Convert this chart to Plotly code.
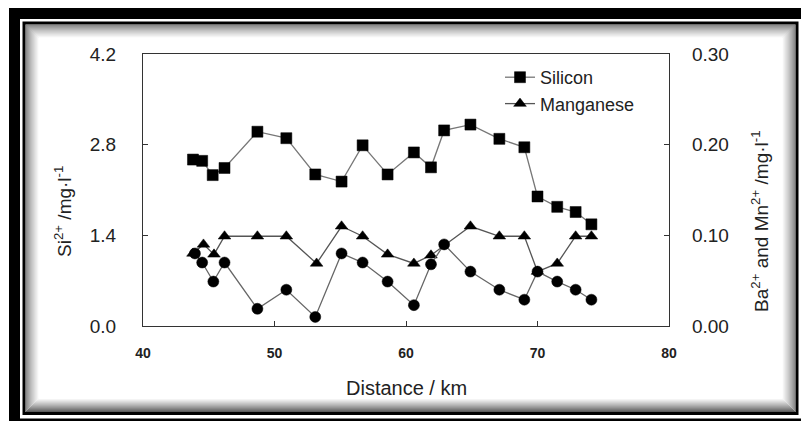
import plotly.graph_objects as go

# ---------------- data ----------------
si_x = [43.8, 44.5, 45.3, 46.2, 48.7, 50.9, 53.1, 55.1, 56.7, 58.6, 60.6, 61.9, 62.9, 64.9, 67.1, 69.0, 70.0, 71.5, 72.9, 74.1]
si_y = [2.57, 2.55, 2.33, 2.44, 3.00, 2.90, 2.34, 2.23, 2.79, 2.34, 2.68, 2.45, 3.02, 3.11, 2.89, 2.76, 2.00, 1.84, 1.76, 1.57]

mn_x = [43.8, 44.6, 45.4, 46.2, 48.7, 50.9, 53.2, 55.1, 56.7, 58.6, 60.6, 61.9, 64.9, 67.1, 69.0, 70.0, 71.5, 72.9, 74.1]
mn_y = [0.080, 0.090, 0.079, 0.099, 0.099, 0.099, 0.069, 0.110, 0.099, 0.079, 0.069, 0.078, 0.110, 0.099, 0.099, 0.060, 0.069, 0.099, 0.099]

ba_x = [43.95, 44.5, 45.35, 46.2, 48.7, 50.9, 53.1, 55.1, 56.7, 58.6, 60.6, 61.9, 62.9, 64.9, 67.1, 69.0, 70.0, 71.5, 72.9, 74.1]
ba_y = [0.080, 0.070, 0.049, 0.070, 0.019, 0.040, 0.010, 0.080, 0.070, 0.049, 0.023, 0.068, 0.090, 0.060, 0.040, 0.029, 0.060, 0.049, 0.040, 0.029]

x_ticks = [40, 50, 60, 70, 80]
y_left_ticks = [0.0, 1.4, 2.8, 4.2]
y_right_ticks = [0.0, 0.10, 0.20, 0.30]

# ---------------- layout geometry ----------------
W, H = 801, 421
L, R, T, B = 143, 132, 54, 95
PW, PH = W - L - R, H - T - B


def px(x):
    return (x - L) / PW


def py(y):
    return (H - B - y) / PH


FONT = "Liberation Sans, Arial, sans-serif"
TXT = "#222222"
AX = "#333333"

fig = go.Figure()
fig.add_trace(go.Scatter(
    x=si_x, y=si_y, name="Silicon", mode="lines+markers",
    line=dict(color="#777777", width=1.3),
    marker=dict(symbol="square", size=11, color="black", line=dict(color="black", width=0.5)),
))
fig.add_trace(go.Scatter(
    x=mn_x, y=mn_y, name="Manganese", mode="lines+markers", yaxis="y2",
    line=dict(color="#555555", width=1.3),
    marker=dict(symbol="triangle-up", size=11, color="black", line=dict(color="black", width=0.5)),
))
fig.add_trace(go.Scatter(
    x=ba_x, y=ba_y, name="Barium", mode="lines+markers", yaxis="y2", showlegend=False,
    line=dict(color="#666666", width=1.3),
    marker=dict(symbol="circle", size=11, color="black", line=dict(color="black", width=0.5)),
))

# ---------------- frame ----------------
shapes = []


def rect(x0, y0, x1, y1, fill=None, line=None, lw=0):
    d = dict(type="rect", xref="paper", yref="paper", layer="below",
             x0=px(x0), x1=px(x1), y0=py(y1), y1=py(y0))
    d["fillcolor"] = fill if fill else "rgba(0,0,0,0)"
    d["line"] = dict(color=line or "rgba(0,0,0,0)", width=lw)
    return d


shapes.append(rect(9, 8, 830, 440, fill="black"))
shapes.append(rect(20, 19, 815, 418.5, fill="white"))
shapes.append(rect(22.5, 21.5, 798.5, 415, fill="black"))
shapes.append(rect(25.5, 24.5, 795.5, 412, fill="white"))
N = 14
for k in range(N):
    t = (k + 1) / N
    g = int(70 + (255 - 70) * (t ** 0.8))
    c = f"rgb({g},{g},{g})"
    shapes.append(rect(25.5 + k + 0.5, 24.5 + k + 0.5, 795.5 - k - 0.5, 412 - k - 0.5, line=c, lw=1))

annotations = [
    dict(text="Si<sup>2+</sup> /mg·l<sup>-1</sup>", x=px(63), y=py(212), xref="paper", yref="paper",
         textangle=-90, showarrow=False, xanchor="center", yanchor="middle",
         font=dict(family=FONT, size=19, color=TXT)),
    dict(text="Ba<sup>2+</sup> and Mn<sup>2+</sup> /mg·l<sup>-1</sup>", x=px(760), y=py(221), xref="paper", yref="paper",
         textangle=-90, showarrow=False, xanchor="center", yanchor="middle",
         font=dict(family=FONT, size=19, color=TXT)),
    dict(text="Distance / km", x=px(406), y=py(388), xref="paper", yref="paper",
         showarrow=False, xanchor="center", yanchor="middle",
         font=dict(family=FONT, size=20, color=TXT)),
]

fig.update_layout(
    width=W, height=H,
    margin=dict(l=L, r=R, t=T, b=B, pad=0),
    paper_bgcolor="white", plot_bgcolor="rgba(0,0,0,0)",
    font=dict(family=FONT, color=TXT),
    shapes=shapes,
    annotations=annotations,
    xaxis=dict(range=[40, 80], tickvals=x_ticks, ticks="inside", ticklen=5, tickcolor=AX,
               showline=True, linecolor=AX, linewidth=1.2, mirror=True, showgrid=False, zeroline=False,
               tickfont=dict(family=FONT, size=14, color=TXT, weight="bold"), ticklabelstandoff=14),
    yaxis=dict(range=[0, 4.2], tickvals=y_left_ticks, tickformat=".1f", ticks="inside", ticklen=5, tickcolor=AX,
               showline=True, linecolor=AX, linewidth=1.2, showgrid=False, zeroline=False,
               tickfont=dict(family=FONT, size=19, color=TXT), ticklabelstandoff=22),
    yaxis2=dict(range=[0, 0.30], tickvals=y_right_ticks, tickformat=".2f", ticks="inside", ticklen=5, tickcolor=AX,
                overlaying="y", side="right",
                showline=True, linecolor=AX, linewidth=1.2, showgrid=False, zeroline=False,
                tickfont=dict(family=FONT, size=19, color=TXT), ticklabelstandoff=18),
    legend=dict(x=px(500), y=py(59), xanchor="left", yanchor="top", bgcolor="rgba(0,0,0,0)",
                borderwidth=0, font=dict(family=FONT, size=18, color=TXT), tracegroupgap=0),
    showlegend=True,
)

fig.write_html("out.html")
